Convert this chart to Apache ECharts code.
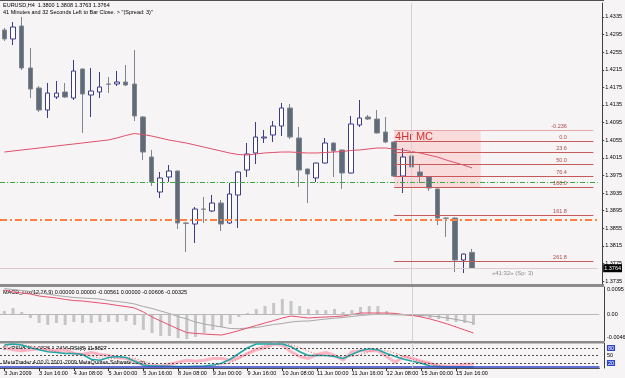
<!DOCTYPE html>
<html>
<head>
<meta charset="utf-8">
<script src="https://cdn.jsdelivr.net/npm/echarts@6/dist/echarts.min.js"></script>
<style>
html, body { margin: 0; padding: 0; background: #f6f4f4; }
#main { width: 625px; height: 378px; }
</style>
</head>
<body>
<div id="main"></div>
<script>
// EURUSD H4, 3 Jun 2009 .. 16 Jun 2009
var tickLabels = ['3 Jun 2009', '3 Jun 16:00', '4 Jun 08:00', '5 Jun 00:00', '5 Jun 16:00', '8 Jun 08:00',
  '9 Jun 00:00', '9 Jun 16:00', '10 Jun 08:00', '11 Jun 00:00', '11 Jun 16:00', '12 Jun 08:00',
  '15 Jun 00:00', '15 Jun 16:00'];
var priceTicks = [1.3735, 1.3775, 1.3815, 1.3855, 1.3895, 1.3935, 1.3975, 1.4015, 1.4055, 1.4095,
  1.4135, 1.4175, 1.4215, 1.4255, 1.4295, 1.4335];

var opens = [1.43054, 1.42850, 1.43145, 1.42191, 1.41736, 1.41236, 1.41531, 1.41645, 1.41509, 1.42168,
  1.41577, 1.41645, 1.41827, 1.41827, 1.41872, 1.41827, 1.41077, 1.40168, 1.39372, 1.39713,
  1.39850, 1.38668, 1.38645, 1.38986, 1.38941, 1.39122, 1.38668, 1.39304, 1.39872, 1.40259,
  1.40600, 1.40668, 1.40872, 1.41281, 1.40600, 1.39895, 1.39691, 1.40031, 1.40486, 1.40327,
  1.39804, 1.40895, 1.41077, 1.41031, 1.40736, 1.40509, 1.39736, 1.40191, 1.39827, 1.39713,
  1.39441, 1.38781, 1.38781, 1.37827, 1.3800];
var closes = [1.42850, 1.43122, 1.42191, 1.41713, 1.41236, 1.41622, 1.41622, 1.41531, 1.42122, 1.41600,
  1.41668, 1.41759, 1.41820, 1.41872, 1.41804, 1.41100, 1.40281, 1.39600, 1.39691, 1.39850,
  1.38668, 1.38660, 1.38986, 1.38980, 1.39122, 1.38645, 1.39327, 1.39827, 1.40236, 1.40622,
  1.40622, 1.40872, 1.41281, 1.40622, 1.39872, 1.39781, 1.40031, 1.40486, 1.40304, 1.39804,
  1.40918, 1.41054, 1.41031, 1.40713, 1.40509, 1.39736, 1.40168, 1.39941, 1.39736, 1.39463,
  1.38781, 1.38775, 1.37827, 1.37963, 1.3764];
var lows = [1.42804, 1.42713, 1.42145, 1.41509, 1.41191, 1.41054, 1.41486, 1.41509, 1.41463, 1.40713,
  1.41077, 1.41509, 1.41622, 1.41781, 1.41781, 1.40986, 1.40100, 1.39509, 1.39236, 1.39600,
  1.38531, 1.38009, 1.38213, 1.38668, 1.38918, 1.38486, 1.38645, 1.38554, 1.39713, 1.40009,
  1.40486, 1.40509, 1.40645, 1.40577, 1.39486, 1.39122, 1.39600, 1.40020, 1.39713, 1.39441,
  1.39795, 1.40850, 1.41009, 1.40705, 1.40486, 1.39713, 1.39350, 1.39918, 1.39577, 1.39395,
  1.38622, 1.38350, 1.37554, 1.37531, 1.3763];
var highs = [1.43100, 1.43236, 1.43350, 1.42645, 1.41781, 1.41850, 1.41895, 1.41850, 1.42372, 1.42180,
  1.42191, 1.42100, 1.41986, 1.42122, 1.42259, 1.42600, 1.41100, 1.40327, 1.39827, 1.39986,
  1.39860, 1.38691, 1.39031, 1.39259, 1.39304, 1.39191, 1.39577, 1.39840, 1.40486, 1.40963,
  1.40781, 1.40986, 1.41395, 1.41372, 1.40850, 1.39905, 1.40040, 1.40600, 1.40495, 1.40335,
  1.41100, 1.41463, 1.41122, 1.41236, 1.41077, 1.40515, 1.40372, 1.40281, 1.40009, 1.39720,
  1.39450, 1.38790, 1.38790, 1.37970, 1.3808];
var maValues = [1.40281, 1.40304, 1.40327, 1.40350, 1.40372, 1.40395, 1.40418, 1.40441, 1.40463, 1.40486,
  1.40509, 1.40532, 1.40554, 1.40600, 1.40656, 1.40702, 1.40679, 1.40645, 1.40600, 1.40554,
  1.40520, 1.40486, 1.40441, 1.40395, 1.40350, 1.40304, 1.40259, 1.40225, 1.40213, 1.40236,
  1.40259, 1.40270, 1.40281, 1.40281, 1.40270, 1.40259, 1.40259, 1.40270, 1.40281, 1.40293,
  1.40316, 1.40327, 1.40350, 1.40372, 1.40372, 1.40350, 1.40327, 1.40293, 1.40259, 1.40213,
  1.40168, 1.40100, 1.40043, 1.39986, 1.39918];

var macdLine = [0.0084, 0.0077, 0.00735, 0.0070, 0.0063, 0.00595, 0.0056, 0.0051, 0.0047, 0.00455,
  0.0042, 0.00385, 0.0035, 0.0030, 0.0026, 0.0021, 0.0007, -0.00105, -0.00245, -0.00385,
  -0.00525, -0.0065, -0.0068, -0.0070, -0.0072, -0.00735, -0.00665, -0.0058, -0.0049, -0.0040,
  -0.00315, -0.0023, -0.0014, -0.0007, -0.00105, -0.0014, -0.0012, -0.00105, -0.0009, -0.0007,
  -0.0002, 0.00035, 0.00035, 0.00035, 0.00035, 0.0002, -0.0002, -0.0005, -0.00105, -0.00175,
  -0.0026, -0.0035, -0.00455, -0.0056, -0.00665];
var macdSignal = [0.0089, 0.00858, 0.00823, 0.00788, 0.00735, 0.0070, 0.00648, 0.00613, 0.00578, 0.0056,
  0.00543, 0.00525, 0.00473, 0.00438, 0.00403, 0.0035, 0.00263, 0.00193, 0.00105, 0.00018,
  -0.00088, -0.00175, -0.0028, -0.0035, -0.00403, -0.00455, -0.00508, -0.00515, -0.0049, -0.00473,
  -0.0042, -0.00368, -0.00333, -0.0028, -0.00252, -0.00245, -0.0021, -0.00175, -0.00147, -0.00123,
  -0.00088, -0.00053, -0.00028, -0.00007, -0.00018, -0.00028, -0.00035, -0.00035, -0.00053, -0.0007,
  -0.00098, -0.0014, -0.00193, -0.00245, -0.00315];
var macdHist = [0.00105, 0.0021, 0.0007, -0.0014, -0.00315, -0.00385, -0.00315, -0.00385, -0.0028, -0.00315,
  -0.00315, -0.0028, -0.0028, -0.0028, -0.00245, -0.00385, -0.0056, -0.00665, -0.0077, -0.0077,
  -0.0084, -0.00875, -0.00805, -0.00665, -0.0056, -0.00455, -0.0035, -0.00105, 0.00035, 0.00175,
  0.0028, 0.00385, 0.00525, 0.00455, 0.0028, 0.00175, 0.0014, 0.0014, 0.00175, 0.0007,
  0.0014, 0.00245, 0.0028, 0.0028, 0.00105, 0.0001, -0.00035, -0.0007, -0.00105, -0.0014,
  -0.00175, -0.00245, -0.0028, -0.00315, -0.00385];

var stoMain = [92, 96, 92, 81, 73, 65, 62, 58, 58, 54, 35, 31, 42, 46, 42, 27, 12, 8, 8, 7,
  6, 6, 7, 8, 12, 19, 35, 58, 81, 96, 96, 96, 96, 85, 65, 50, 50, 50, 46, 38,
  54, 69, 77, 73, 58, 46, 35, 27, 19, 8, 6, 4, 4, 4, 4];
var stoSignal = [90, 92, 93, 88, 80, 72, 66, 61, 59, 56, 48, 40, 36, 40, 43, 38, 27, 16, 9, 7,
  6, 6, 7, 8, 9, 13, 22, 37, 58, 78, 91, 96, 96, 92, 82, 67, 55, 50, 48, 45,
  46, 54, 66, 73, 69, 59, 46, 36, 27, 18, 11, 6, 5, 4, 4];
var rsiLine = [81, 73, 69, 73, 77, 73, 69, 73, 58, 54, 62, 54, 50, 42, 38, 27, 12, 8, 8, 15,
  23, 31, 27, 31, 38, 38, 31, 42, 58, 73, 81, 96, 92, 65, 46, 38, 54, 62, 50, 31,
  65, 69, 69, 69, 46, 23, 46, 38, 27, 19, 8, 8, 8, 15, 15];

var fibLevels = [-23.6, 0, 23.6, 50, 76.4, 100, 161.8, 261.8];
var fibTexts = ['-0.236', '0.0', '23.6', '50.0', '76.4', '100.0', '161.8', '261.8'];
var fibHigh = 1.4053, fibLow = 1.3949;
var greenLevel = 1.3960, orangeLevel = 1.3875;
var lastPrice = 1.3764;

var slotCount = 69;   // bars + empty shift area on the right
var markBar = 47;     // vertical marker line
var FONT = 'Liberation Sans';

var categories = [];
for (var i = 0; i < slotCount; i++) categories.push(String(i));
var candleData = opens.map(function (o, i) { return [o, closes[i], lows[i], highs[i]]; });

var fibLines = [], fibMarks = [];
fibLevels.forEach(function (lv, i) {
  var p = fibHigh - lv / 100 * (fibHigh - fibLow);
  fibLines.push([
    { xAxis: 45, yAxis: p, lineStyle: { color: i === 0 ? '#e4a8a8' : '#c45a5a', width: 1, type: 'solid' } },
    { xAxis: 68, yAxis: p }
  ]);
  fibMarks.push({ coord: [65, p], value: fibTexts[i] });
});

var chartDom = document.getElementById('main');
var myChart = echarts.init(chartDom, null, { renderer: 'canvas' });

var xBase = function (gi, showLabels) {
  return {
    type: 'category', gridIndex: gi, data: categories, boundaryGap: true,
    axisLine: { show: showLabels, lineStyle: { color: '#505050' } },
    axisTick: {
      show: showLabels, length: 3, alignWithLabel: true, lineStyle: { color: '#303030' },
      interval: function (idx) { return idx % 4 === 0 && idx / 4 < tickLabels.length; }
    },
    axisLabel: {
      show: showLabels, fontSize: 5.5, fontFamily: FONT, color: '#000', margin: 2, align: 'left',
      interval: function (idx) { return idx % 4 === 0 && idx / 4 < tickLabels.length; },
      formatter: function (v, idx) { return tickLabels[idx / 4] || ''; }
    },
    splitLine: { show: false }
  };
};

var vline = { xAxis: markBar, lineStyle: { color: '#d2d2d2', width: 1, type: 'solid' } };

var option = {
  animation: false,
  backgroundColor: '#f6f4f4',
  grid: [
    { left: -2.36, top: 3, width: 601.8, height: 281 },
    { left: -2.36, top: 287, width: 601.8, height: 54 },
    { left: -2.36, top: 343, width: 601.8, height: 25 }
  ],
  xAxis: [xBase(0, false), xBase(1, false), xBase(2, true)],
  yAxis: [
    {
      type: 'value', gridIndex: 0, position: 'right', offset: 4.5,
      min: 1.372815, max: 1.436678,
      axisLine: { show: true, lineStyle: { color: '#404040' } },
      axisTick: { show: true, length: 2, customValues: priceTicks, lineStyle: { color: '#404040' } },
      axisLabel: {
        show: true, customValues: priceTicks, fontSize: 5.5, fontFamily: FONT, color: '#000', margin: 3,
        formatter: function (v) { return v.toFixed(4); }
      },
      splitLine: { show: false }
    },
    {
      type: 'value', gridIndex: 1, position: 'right', offset: 4.5, min: -0.00945, max: 0.00945,
      axisLine: { show: true, lineStyle: { color: '#404040' } },
      axisTick: { show: false }, axisLabel: { show: false }, splitLine: { show: false }
    },
    {
      type: 'value', gridIndex: 2, position: 'right', offset: 4.5, min: 0, max: 100,
      axisLine: { show: true, lineStyle: { color: '#404040' } },
      axisTick: { show: false },
      axisLabel: {
        show: true, customValues: [80, 50, 20], fontSize: 5.5, fontFamily: FONT, color: '#000', margin: 3,
        formatter: function (v) { return v === 50 ? '50' : '{b|' + v + '}'; },
        rich: { b: { backgroundColor: '#2f44c8', color: '#ffffff', fontSize: 5.5, fontFamily: FONT, padding: [0, 1] } }
      },
      splitLine: { show: false }
    }
  ],
  series: [
    {
      type: 'candlestick', xAxisIndex: 0, yAxisIndex: 0, data: candleData, barWidth: 5,
      itemStyle: { color: '#ffffff', color0: '#606b78', borderColor: '#3c3c88', borderColor0: '#7d8590', borderWidth: 1 },
      markLine: {
        silent: true, symbol: 'none', precision: 5, label: { show: false },
        data: [vline].concat(fibLines)
      },
      markArea: {
        silent: true,
        itemStyle: { color: 'rgba(255,170,170,0.33)' },
        label: { show: true, position: 'insideTopLeft', distance: 1, color: '#d83030', fontSize: 11, fontFamily: FONT },
        data: [[{ xAxis: 45, yAxis: 1.40781, name: '4Hr MC' }, { xAxis: 55, yAxis: 1.39463 }]]
      },
      markPoint: {
        silent: true, symbol: 'rect', symbolSize: 1, itemStyle: { color: 'rgba(0,0,0,0)' },
        label: {
          show: true, position: 'left', distance: 0, offset: [0, -3.5], formatter: '{c}',
          color: '#b04848', fontSize: 5.5, fontFamily: FONT
        },
        data: fibMarks.concat([{
          coord: [56, 1.37531], value: '\u00ab41:32\u00bb (Sp: 3)',
          label: { position: 'right', offset: [2, 0], color: '#8c8c8c', fontSize: 6 }
        }])
      }
    },
    {
      type: 'line', xAxisIndex: 0, yAxisIndex: 0, data: maValues, symbol: 'none',
      lineStyle: { color: '#e0506a', width: 1 },
      markLine: {
        silent: true, symbol: 'none', precision: 5, label: { show: false },
        data: [
          { yAxis: greenLevel, lineStyle: { color: '#3aa83a', width: 1, type: [5, 2, 1, 2] } },
          { yAxis: orangeLevel, lineStyle: { color: '#ff8040', width: 2, type: [7, 3, 2, 3] } },
          {
            yAxis: lastPrice, lineStyle: { color: '#d8cccc', width: 1, type: 'solid' },
            label: {
              show: true, position: 'end', distance: 5.5, formatter: lastPrice.toFixed(4),
              backgroundColor: '#000', color: '#fff', fontSize: 5.5, fontFamily: FONT, padding: [1, 1]
            }
          }
        ]
      }
    },
    {
      type: 'bar', xAxisIndex: 1, yAxisIndex: 1, data: macdHist, barWidth: 3,
      itemStyle: { color: '#c6c6c6' },
      markLine: {
        silent: true, symbol: 'none', precision: 5, label: { show: false },
        data: [{ yAxis: 0, lineStyle: { color: '#b8b8b8', width: 1, type: 'solid' } }, vline]
      }
    },
    {
      type: 'line', xAxisIndex: 1, yAxisIndex: 1, data: macdSignal, symbol: 'none',
      lineStyle: { color: '#a8a8a8', width: 1 }
    },
    {
      type: 'line', xAxisIndex: 1, yAxisIndex: 1, data: macdLine, symbol: 'none',
      lineStyle: { color: '#e8506e', width: 1 }
    },
    {
      type: 'line', xAxisIndex: 2, yAxisIndex: 2, data: rsiLine, symbol: 'none',
      lineStyle: { color: '#ffb4c4', width: 3 },
      markLine: {
        silent: true, symbol: 'none', label: { show: false },
        data: [
          { yAxis: 80, lineStyle: { color: '#505050', width: 1, type: [2, 2] } },
          { yAxis: 50, lineStyle: { color: '#505050', width: 1, type: [2, 2] } },
          { yAxis: 20, lineStyle: { color: '#505050', width: 1, type: [2, 2] } },
          { yAxis: 4, lineStyle: { color: '#2f44c8', width: 1.5, type: 'solid' } },
          vline
        ]
      }
    },
    {
      type: 'line', xAxisIndex: 2, yAxisIndex: 2, data: stoSignal, symbol: 'none',
      lineStyle: { color: '#ff5050', width: 1, type: [1, 2] }
    },
    {
      type: 'line', xAxisIndex: 2, yAxisIndex: 2, data: stoMain, symbol: 'none',
      lineStyle: { color: '#22a8a8', width: 1.5 }
    }
  ],
  graphic: [
    { type: 'rect', shape: { x: 0, y: 0, width: 604, height: 1 }, style: { fill: '#505050' }, silent: true },
    { type: 'rect', shape: { x: 0, y: 284, width: 604, height: 3 }, style: { fill: '#8c8c8c' }, silent: true },
    { type: 'rect', shape: { x: 0, y: 341, width: 604, height: 2.5 }, style: { fill: '#8c8c8c' }, silent: true },
    {
      type: 'text', left: 3, top: 2, silent: true,
      style: { text: 'EURUSD,H4  1.3800 1.3808 1.3763 1.3764', fill: '#000', fontSize: 5.5, fontFamily: FONT }
    },
    {
      type: 'text', left: 3, top: 9, silent: true,
      style: { text: '41 Minutes and 32 Seconds Left to Bar Close. > "(Spread: 3)"', fill: '#000', fontSize: 5.5, fontFamily: FONT }
    },
    {
      type: 'text', left: 3, top: 289, silent: true,
      style: { text: 'MACD_Lux(12,26,9) 0.00000 0.00000 -0.00561 0.00000 -0.00606 -0.00325', fill: '#000', fontSize: 5.5, fontFamily: FONT }
    },
    {
      type: 'text', left: 3, top: 345, silent: true,
      style: { text: 'StoRSI(8,3) 1.2826 1.2416 RSI(8) 11.8827', fill: '#000', fontSize: 5.5, fontFamily: FONT }
    },
    {
      type: 'text', left: 3, top: 359, silent: true,
      style: { text: 'MetaTrader 4.00 \u00a9 2001-2009 MetaQuotes Software Corp.', fill: '#000', fontSize: 5.5, fontFamily: FONT }
    },
    {
      type: 'text', left: 607, top: 286, silent: true,
      style: { text: '0.0095', fill: '#000', fontSize: 5.5, fontFamily: FONT }
    },
    {
      type: 'text', left: 607, top: 311, silent: true,
      style: { text: '0.00', fill: '#000', fontSize: 5.5, fontFamily: FONT }
    },
    {
      type: 'text', left: 607, top: 334, silent: true,
      style: { text: '-0.0046', fill: '#000', fontSize: 5.5, fontFamily: FONT }
    }
  ]
};

option && myChart.setOption(option);
</script>
</body>
</html>
